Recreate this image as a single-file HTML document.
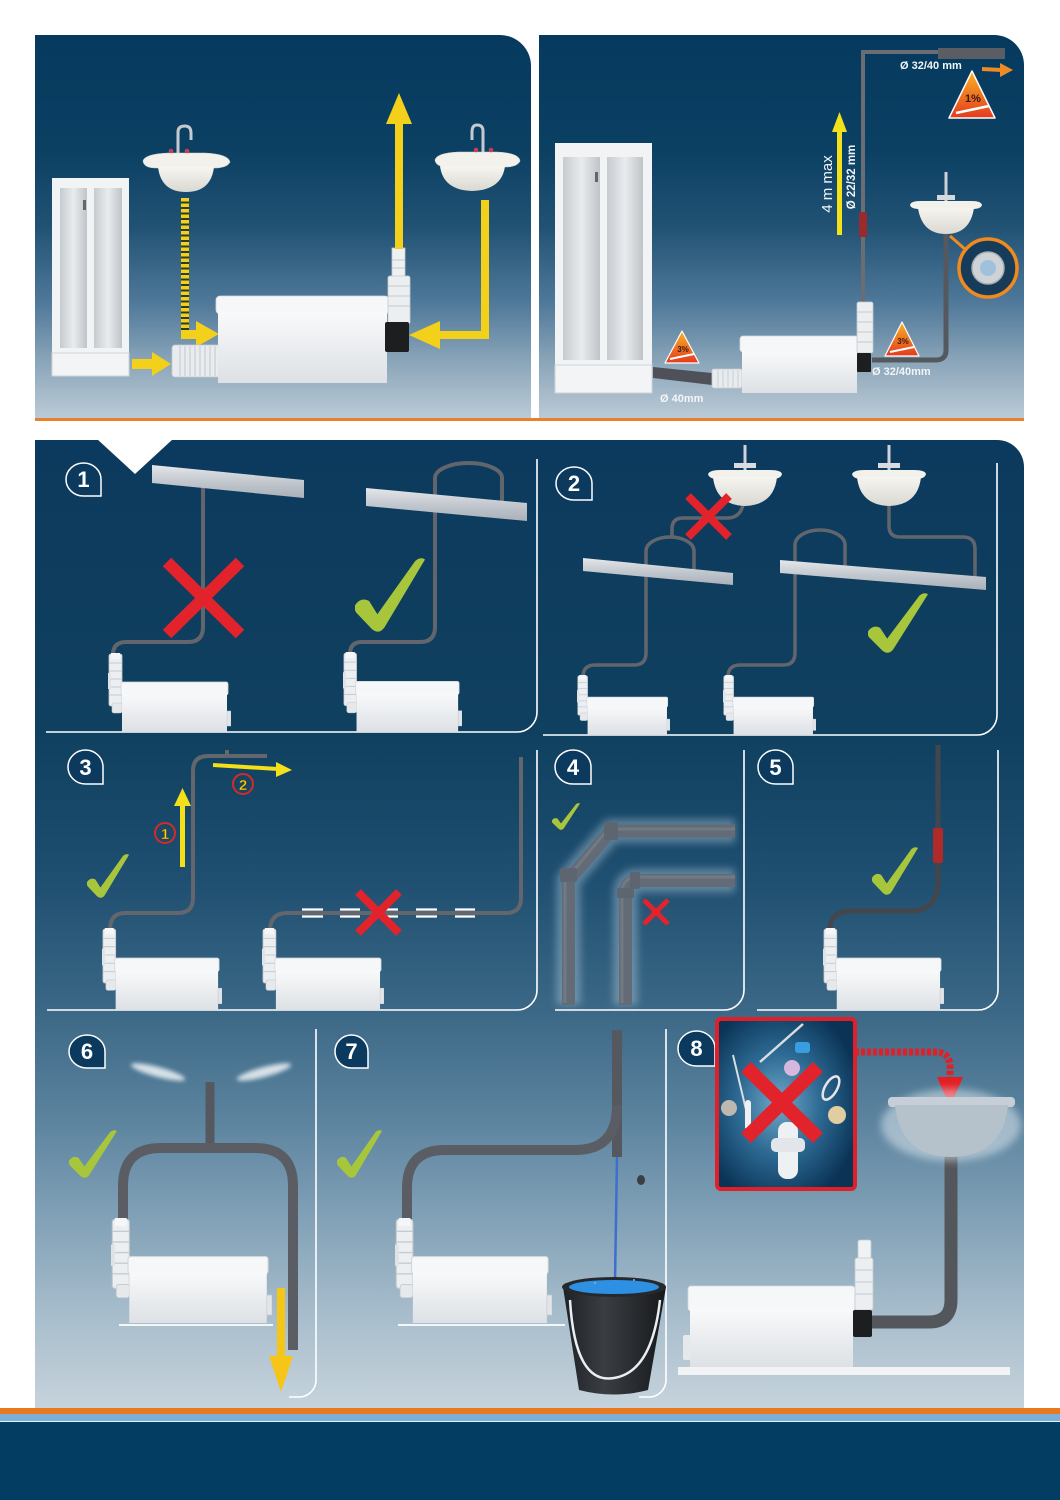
<!DOCTYPE html>
<html><head><meta charset="utf-8">
<style>
html,body{margin:0;padding:0;background:#fff;}
body{width:1060px;height:1500px;overflow:hidden;}
svg{display:block;font-family:"Liberation Sans",Arial,sans-serif;}
</style></head>
<body>
<svg width="1060" height="1500" viewBox="0 0 1060 1500" xmlns="http://www.w3.org/2000/svg">
<defs>
  <linearGradient id="gTop" gradientUnits="userSpaceOnUse" x1="0" y1="35" x2="0" y2="419">
    <stop offset="0" stop-color="#053a5e"/>
    <stop offset="0.3" stop-color="#0b4063"/>
    <stop offset="0.5" stop-color="#215274"/>
    <stop offset="0.7" stop-color="#50799a"/>
    <stop offset="0.85" stop-color="#8aa5b9"/>
    <stop offset="1" stop-color="#bccbd7"/>
  </linearGradient>
  <linearGradient id="gBot" gradientUnits="userSpaceOnUse" x1="0" y1="440" x2="0" y2="1408">
    <stop offset="0" stop-color="#0c3a5e"/>
    <stop offset="0.3" stop-color="#10405f"/>
    <stop offset="0.45" stop-color="#1e4e70"/>
    <stop offset="0.59" stop-color="#3b6886"/>
    <stop offset="0.7" stop-color="#5b839e"/>
    <stop offset="0.8" stop-color="#80a0b6"/>
    <stop offset="0.9" stop-color="#a6bccb"/>
    <stop offset="1" stop-color="#c6d3dc"/>
  </linearGradient>
  <linearGradient id="pb" x1="0" y1="0" x2="0" y2="1">
    <stop offset="0" stop-color="#f8f9fa"/>
    <stop offset="1" stop-color="#dde1e5"/>
  </linearGradient>
  <linearGradient id="beam" x1="0" y1="0" x2="0" y2="1">
    <stop offset="0" stop-color="#e4e7eb"/>
    <stop offset="0.5" stop-color="#c3c8cf"/>
    <stop offset="1" stop-color="#a9b0b9"/>
  </linearGradient>
  <linearGradient id="sinkG" x1="0" y1="0" x2="0" y2="1">
    <stop offset="0" stop-color="#f6f5f0"/>
    <stop offset="1" stop-color="#d9d8d1"/>
  </linearGradient>
  <linearGradient id="door" x1="0" y1="0" x2="1" y2="0">
    <stop offset="0" stop-color="#c6cbd0"/>
    <stop offset="0.5" stop-color="#e9ecee"/>
    <stop offset="1" stop-color="#bfc4c9"/>
  </linearGradient>
  <linearGradient id="warn" x1="0" y1="0" x2="0" y2="1">
    <stop offset="0" stop-color="#f8b323"/>
    <stop offset="1" stop-color="#e43a1f"/>
  </linearGradient>
  <linearGradient id="bucket" x1="0" y1="0" x2="1" y2="0">
    <stop offset="0" stop-color="#1e2124"/>
    <stop offset="0.4" stop-color="#3a3e43"/>
    <stop offset="1" stop-color="#17191b"/>
  </linearGradient>
  <radialGradient id="box8" cx="0.45" cy="0.5" r="0.6">
    <stop offset="0" stop-color="#6fa7c9"/>
    <stop offset="0.5" stop-color="#2d6a93"/>
    <stop offset="1" stop-color="#0a3356"/>
  </radialGradient>
  <filter id="blur2" x="-50%" y="-50%" width="200%" height="200%"><feGaussianBlur stdDeviation="2"/></filter>
  <filter id="blur4" x="-50%" y="-50%" width="200%" height="200%"><feGaussianBlur stdDeviation="4"/></filter>
  <symbol id="pump" viewBox="0 0 123 79" preserveAspectRatio="none">
    <rect x="1" y="1" width="13" height="52" rx="2" fill="#eceff1" stroke="#c3c8cd" stroke-width=".8"/>
    <rect x="3" y="0" width="9" height="6" fill="#f5f6f7"/>
    <path d="M1,10H14M1,18H14M1,26H14M1,34H14M1,42H14" stroke="#c6cbd0" stroke-width="1"/>
    <rect x="0" y="20" width="3" height="16" fill="#dfe3e6"/>
    <rect x="4" y="50" width="10" height="10" rx="2" fill="#e6e9ec" stroke="#c3c8cd" stroke-width=".6"/>
    <rect x="13" y="29" width="107" height="13" rx="2" fill="#f6f7f8" stroke="#d2d6da" stroke-width=".8"/>
    <rect x="14" y="41" width="105" height="38" fill="url(#pb)"/>
    <rect x="119" y="58" width="4" height="15" fill="#e2e5e8" stroke="#c5cacf" stroke-width=".5"/>
  </symbol>
  <symbol id="chk" viewBox="0 0 100 100" preserveAspectRatio="none">
    <path d="M0,64 Q8,52 20,58 L32,76 L86,4 Q94,-2 100,2 L42,94 Q34,104 24,96 L2,74 Q-2,69 0,64 Z" fill="#a8c63c"/>
  </symbol>
</defs>

<!-- ================= TOP PANELS ================= -->
<path d="M35,35H500A31,31 0 0 1 531,66V419H35Z" fill="url(#gTop)"/>
<path d="M539,35H994A30,30 0 0 1 1024,65V419H539Z" fill="url(#gTop)"/>
<rect x="35" y="418" width="989" height="3" fill="#e8822a"/>

<!-- shower 1 -->
<rect x="52" y="178" width="77" height="177" fill="#f1f3f5"/>
<rect x="60" y="188" width="27" height="160" fill="url(#door)"/>
<rect x="94" y="188" width="28" height="160" fill="url(#door)"/>
<rect x="52" y="353" width="77" height="23" fill="#f3f4f5" stroke="#cfd4d8" stroke-width="1"/>
<rect x="83" y="200" width="3" height="10" fill="#666"/>

<!-- sink 1 -->
<path d="M178,154V132Q178,126 185,126Q191,126 191,133V140" fill="none" stroke="#c5cad0" stroke-width="3"/>
<path d="M143,161 Q145,154 168,153 H205 Q228,154 230,162 Q227,168 214,168 H156 Q144,168 143,161Z" fill="#f3f1ec" stroke="#d6d4cd" stroke-width=".6"/>
<path d="M158,167 Q161,192 186,192 Q211,192 214,167Z" fill="url(#sinkG)"/>
<circle cx="171" cy="151" r="2.3" fill="#c84050"/><circle cx="187" cy="151" r="2.3" fill="#c84050"/>

<!-- sink 2 -->
<path d="M483,153V131Q483,125 477,125Q472,125 472,132V140" fill="none" stroke="#c5cad0" stroke-width="3"/>
<path d="M435,160 Q437,153 458,152 H497 Q519,153 520,161 Q517,167 505,167 H448 Q436,167 435,160Z" fill="#f3f1ec" stroke="#d6d4cd" stroke-width=".6"/>
<path d="M440,166 Q443,190 472,191 Q502,190 505,166Z" fill="url(#sinkG)"/>
<circle cx="476" cy="150" r="2.3" fill="#c84050"/><circle cx="491" cy="150" r="2.3" fill="#c84050"/>

<!-- yellow arrows top-left -->
<line x1="185" y1="198" x2="185" y2="334" stroke="#2c3a26" stroke-width="8"/>
<line x1="185" y1="198" x2="185" y2="334" stroke="#f3d01a" stroke-width="8" stroke-dasharray="3.5 2"/>
<rect x="181" y="330" width="17" height="9" fill="#f3d01a"/>
<polygon points="196,321 219,334 196,347" fill="#f3d01a"/>
<rect x="132" y="359" width="21" height="10" fill="#f3d01a"/>
<polygon points="152,352 171,364 152,376" fill="#f3d01a"/>

<!-- inlet fitting -->
<rect x="172" y="345" width="48" height="32" rx="3" fill="#e9ecef" stroke="#c4c9ce" stroke-width=".8"/>
<path d="M180,346V376M185,346V376M190,346V376M195,346V376M200,346V376M205,346V376M210,346V376M215,346V376" stroke="#c9ced3" stroke-width="1.2"/>

<!-- pump top-left -->
<rect x="216" y="296" width="173" height="18" rx="4" fill="#f6f7f8" stroke="#d4d8dc" stroke-width=".8"/>
<rect x="218" y="313" width="169" height="70" fill="url(#pb)"/>
<rect x="392" y="248" width="13" height="30" fill="#eef0f2" stroke="#c5cace" stroke-width=".8"/>
<rect x="388" y="276" width="22" height="48" rx="2" fill="#eceff1" stroke="#c5cace" stroke-width=".8"/>
<path d="M388,286H410M388,296H410M388,306H410M392,260H405M392,268H405" stroke="#c5cace" stroke-width="1"/>
<rect x="385" y="322" width="24" height="30" rx="2" fill="#1d1e20"/>
<rect x="395" y="121" width="8" height="128" fill="#f3d01a"/>
<polygon points="386,124 399,93 412,124" fill="#f3d01a"/>
<rect x="481" y="200" width="8" height="139" fill="#f3d01a"/>
<rect x="438" y="331" width="51" height="8" fill="#f3d01a"/>
<polygon points="440,321 409,335 440,349" fill="#f3d01a"/>

<!-- top right panel -->
<rect x="555" y="143" width="97" height="224" fill="#f1f3f5"/>
<rect x="563" y="157" width="37" height="203" fill="url(#door)"/>
<rect x="607" y="157" width="36" height="203" fill="url(#door)"/>
<rect x="555" y="365" width="97" height="28" fill="#f3f4f5" stroke="#cfd4d8" stroke-width="1"/>
<rect x="595" y="172" width="3" height="10" fill="#666"/>

<polygon points="653,367 712,373 712,385 653,378" fill="#4e5258"/>
<rect x="712" y="369" width="30" height="19" rx="2" fill="#e9ecef" stroke="#c4c9ce" stroke-width=".8"/>
<path d="M718,370V387M723,370V387M728,370V387M733,370V387M738,370V387" stroke="#c9ced3" stroke-width="1"/>
<rect x="740" y="336" width="119" height="16" rx="3" fill="#f6f7f8" stroke="#d4d8dc" stroke-width=".8"/>
<rect x="742" y="351" width="115" height="42" fill="url(#pb)"/>

<path d="M863,303V52H940" fill="none" stroke="#6a6e74" stroke-width="4"/>
<rect x="938" y="48" width="67" height="11" fill="#5a5e64"/>
<rect x="859" y="212" width="8" height="25" rx="2" fill="#9b2a2a"/>
<rect x="857" y="302" width="16" height="51" rx="2" fill="#eceff1" stroke="#c5cace" stroke-width=".8"/>
<path d="M857,312H873M857,322H873M857,332H873M857,342H873" stroke="#c5cace" stroke-width="1"/>
<rect x="857" y="353" width="14" height="19" rx="1" fill="#1d1e20"/>

<path d="M946,234V350Q946,360 936,360H872" fill="none" stroke="#55595f" stroke-width="5"/>
<line x1="946" y1="172" x2="946" y2="202" stroke="#cdd2d7" stroke-width="3"/>
<rect x="937" y="195" width="18" height="5" fill="#d6dade"/>
<path d="M910,205 Q911,201 920,201 H972 Q981,201 982,205 Q981,209 972,209 H920 Q911,209 910,205Z" fill="#f3f1ec"/>
<path d="M918,208 Q922,234 946,234 Q970,234 974,208Z" fill="url(#sinkG)"/>
<line x1="950" y1="236" x2="966" y2="250" stroke="#f08a1e" stroke-width="3"/>
<circle cx="988" cy="268" r="29" fill="#173c5a" stroke="#f08a1e" stroke-width="3.5"/>
<circle cx="988" cy="268" r="16" fill="#cfd3d6" stroke="#a8afb5" stroke-width="1.5"/>
<circle cx="988" cy="268" r="8" fill="#9fc1dc"/>

<rect x="837" y="130" width="5" height="105" fill="#f3e21a"/>
<polygon points="832,132 839.5,112 847,132" fill="#f3e21a"/>
<text transform="translate(832,184) rotate(-90)" text-anchor="middle" font-size="15" fill="#f2f5f8">4 m max</text>
<text transform="translate(855,177) rotate(-90)" text-anchor="middle" font-size="11.5" font-weight="bold" fill="#f2f5f8">Ø 22/32 mm</text>

<text x="900" y="69" font-size="11" font-weight="bold" fill="#f2f5f8">Ø 32/40 mm</text>
<line x1="982" y1="69" x2="1002" y2="70" stroke="#f08a24" stroke-width="4"/>
<polygon points="1000,63 1013,70 1000,77" fill="#f08a24"/>
<text x="872" y="375" font-size="11" font-weight="bold" fill="#f2f5f8">Ø 32/40mm</text>
<text x="660" y="402" font-size="11" font-weight="bold" fill="#f2f5f8">Ø 40mm</text>

<!-- warning triangles -->
<polygon points="972,71 995,118 949,118" fill="url(#warn)" stroke="#fff" stroke-width="1.5" stroke-linejoin="round"/>
<line x1="956" y1="113" x2="989" y2="106" stroke="#fff" stroke-width="2.5"/>
<text x="973" y="102" text-anchor="middle" font-size="11" font-weight="bold" fill="#3a1a10">1%</text>
<polygon points="902,322 919,356 885,356" fill="url(#warn)" stroke="#fff" stroke-width="1.2" stroke-linejoin="round"/>
<line x1="890" y1="352" x2="914" y2="347" stroke="#fff" stroke-width="2"/>
<text x="903" y="344" text-anchor="middle" font-size="8" font-weight="bold" fill="#3a1a10">3%</text>
<polygon points="682,331 699,363 665,363" fill="url(#warn)" stroke="#fff" stroke-width="1.2" stroke-linejoin="round"/>
<line x1="670" y1="359" x2="694" y2="354" stroke="#fff" stroke-width="2"/>
<text x="683" y="352" text-anchor="middle" font-size="8" font-weight="bold" fill="#3a1a10">3%</text>

<!-- ================= LOWER PANEL ================= -->
<path d="M35,440H997A27,27 0 0 1 1024,467V1408H35Z" fill="url(#gBot)"/>
<polygon points="97,439 173,439 135,474" fill="#fff"/>

<g fill="none" stroke="#fff" stroke-width="1.6">
  <path d="M537,459V712A20,20 0 0 1 517,732H46"/>
  <path d="M997,463V715A20,20 0 0 1 977,735H543"/>
  <path d="M537,750V990A20,20 0 0 1 517,1010H47"/>
  <path d="M744,750V990A20,20 0 0 1 724,1010H555"/>
  <path d="M998,750V990A20,20 0 0 1 978,1010H757"/>
  <path d="M316,1029V1380A17,17 0 0 1 299,1397H289"/>
  <path d="M666,1029V1380A17,17 0 0 1 649,1397H639"/>
</g>

<!-- badges -->
<g fill="#0c3a5e" stroke="#fff" stroke-width="1.5">
  <path d="M101,496H83.5A17.5,16.5 0 0 1 66,479.5A17.5,16.5 0 0 1 83.5,463A17.5,16.5 0 0 1 101,479.5Z"/>
  <path d="M592,500H574A18,16.5 0 0 1 556,483.5A18,16.5 0 0 1 574,467A18,16.5 0 0 1 592,483.5Z"/>
  <path d="M103,784H85.5A17.5,17 0 0 1 68,767A17.5,17 0 0 1 85.5,750A17.5,17 0 0 1 103,767Z"/>
  <path d="M591,784H573A18,17 0 0 1 555,767A18,17 0 0 1 573,750A18,17 0 0 1 591,767Z"/>
  <path d="M793,784H775.5A17.5,17 0 0 1 758,767A17.5,17 0 0 1 775.5,750A17.5,17 0 0 1 793,767Z"/>
  <path d="M105,1068H87A18,16.5 0 0 1 69,1051.5A18,16.5 0 0 1 87,1035A18,16.5 0 0 1 105,1051.5Z"/>
  <path d="M368,1068H351.5A16.5,16.5 0 0 1 335,1051.5A16.5,16.5 0 0 1 351.5,1035A16.5,16.5 0 0 1 368,1051.5Z"/>
  <path d="M715,1066H696.5A18.5,17.5 0 0 1 678,1048.5A18.5,17.5 0 0 1 696.5,1031A18.5,17.5 0 0 1 715,1048.5Z"/>
</g>
<g fill="#fff" font-size="22" font-weight="bold" text-anchor="middle">
  <text x="83.5" y="487">1</text>
  <text x="574" y="491">2</text>
  <text x="85.5" y="775">3</text>
  <text x="573" y="775">4</text>
  <text x="775.5" y="775">5</text>
  <text x="87" y="1059">6</text>
  <text x="351.5" y="1059">7</text>
  <text x="696.5" y="1056">8</text>
</g>

<!-- PANEL 1 -->
<g fill="none" stroke="#62666c" stroke-width="4">
  <path d="M113,655Q113,642 126,642H188Q203,642 203,627V483"/>
  <path d="M350,654Q350,642 362,642H420Q435,642 435,627V478A33.5,15 0 0 1 502,478V501"/>
</g>
<polygon points="152,465 304,480 304,498 152,483" fill="url(#beam)"/>
<polygon points="366,488 527,503 527,521 366,506" fill="url(#beam)"/>
<use href="#pump" x="108" y="653" width="123" height="79"/>
<use href="#pump" x="343" y="652" width="119" height="80"/>
<path d="M167,562L240,634M240,562L167,634" stroke="#e3232b" stroke-width="12"/>
<use href="#chk" x="355" y="558" width="70" height="74"/>

<!-- PANEL 2 -->
<g fill="none" stroke="#62666c" stroke-width="3.5">
  <path d="M583,677Q583,665 595,665H634Q646,665 646,653V551A24,14 0 0 1 694,551V571"/>
  <path d="M672,537V529Q672,518 683,518H727Q740,518 743,505"/>
  <path d="M728,677Q728,665 740,665H783Q795,665 795,653V545A25,15 0 0 1 845,545V566"/>
  <path d="M889,505V526Q889,537 900,537H963Q975,537 975,549V578"/>
</g>
<polygon points="583,558 733,573 733,585 583,571" fill="url(#beam)"/>
<polygon points="780,560 986,577 986,590 780,573" fill="url(#beam)"/>
<line x1="745" y1="445" x2="745" y2="471" stroke="#cfd3d8" stroke-width="3"/>
<rect x="734" y="463" width="22" height="5" fill="#d8dce0"/>
<path d="M708,474 Q710,470 720,470 H770 Q781,470 782,474 Q781,479 772,479 H718 Q709,479 708,474Z" fill="#f2f1ec"/>
<path d="M713,477 Q716,505 745,506 Q774,505 777,477Z" fill="url(#sinkG)"/>
<line x1="889" y1="445" x2="889" y2="471" stroke="#cfd3d8" stroke-width="3"/>
<rect x="878" y="463" width="22" height="5" fill="#d8dce0"/>
<path d="M852,474 Q854,470 864,470 H914 Q925,470 926,474 Q925,479 916,479 H862 Q853,479 852,474Z" fill="#f2f1ec"/>
<path d="M857,477 Q860,505 889,506 Q918,505 921,477Z" fill="url(#sinkG)"/>
<use href="#pump" x="577" y="675" width="93" height="60"/>
<use href="#pump" x="723" y="675" width="93" height="60"/>
<path d="M688,496L729,537M729,496L688,537" stroke="#e3232b" stroke-width="8"/>
<use href="#chk" x="868" y="593" width="60" height="60"/>

<!-- PANEL 3 -->
<g fill="none" stroke="#63676d" stroke-width="4">
  <path d="M110,930Q110,913 125,913H178Q193,913 193,898V771Q193,756 208,756H267"/>
  <path d="M227,750V756"/>
  <path d="M270,931Q270,913 287,913H506Q521,913 521,898V757"/>
</g>
<g stroke="#fff" stroke-width="2.2">
  <path d="M302,909.5H323M302,916.5H323"/>
  <path d="M340,909.5H360M340,916.5H360"/>
  <path d="M383,909.5H398M383,916.5H398"/>
  <path d="M416,909.5H437M416,916.5H437"/>
  <path d="M455,909.5H475M455,916.5H475"/>
</g>
<use href="#pump" x="102" y="928" width="120" height="82"/>
<use href="#pump" x="262" y="928" width="122" height="82"/>
<path d="M358,892L399,933M399,892L358,933" stroke="#e3232b" stroke-width="8"/>
<use href="#chk" x="87" y="854" width="42" height="44"/>
<rect x="180" y="802" width="5" height="65" fill="#f3e01a"/>
<polygon points="174,806 182.5,788 191,806" fill="#f3e01a"/>
<line x1="213" y1="765" x2="278" y2="769" stroke="#f3e01a" stroke-width="4"/>
<polygon points="276,762 292,770 276,777" fill="#f3e01a"/>
<circle cx="165" cy="833" r="10" fill="none" stroke="#d42a2a" stroke-width="2"/>
<text x="165" y="839" text-anchor="middle" font-size="15" font-weight="bold" fill="#f3d41a" stroke="#5a3a10" stroke-width=".5">1</text>
<circle cx="243" cy="784" r="10" fill="none" stroke="#d42a2a" stroke-width="2"/>
<text x="243" y="790" text-anchor="middle" font-size="15" font-weight="bold" fill="#f3d41a" stroke="#5a3a10" stroke-width=".5">2</text>

<!-- PANEL 4 -->
<g fill="none" stroke="#d4e6f3" stroke-width="24" opacity=".35" filter="url(#blur4)" stroke-linejoin="round">
  <path d="M568.5,1005V880L611,831H735"/>
  <path d="M625.5,1005V893Q625.5,880.5 638,880.5H735"/>
</g>
<g fill="none" stroke="#636b76" stroke-width="13" stroke-linejoin="round">
  <path d="M568.5,1005V880L611,831H735"/>
  <path d="M625.5,1005V893Q625.5,880.5 638,880.5H735"/>
</g>
<g fill="none" stroke="#8189937a" stroke-width="3">
  <path d="M565,1003V881L608,829H735"/>
  <path d="M622,1003V893Q622,877 638,877H735"/>
</g>
<rect x="560" y="868" width="17" height="14" rx="2" fill="#5d6570"/>
<rect x="604" y="822" width="14" height="18" rx="2" fill="#5d6570"/>
<rect x="617" y="888" width="17" height="10" rx="2" fill="#5d6570"/>
<rect x="630" y="872" width="10" height="17" rx="2" fill="#5d6570"/>
<path d="M644,900L668,924M668,900L644,924" stroke="#e3232b" stroke-width="5"/>
<use href="#chk" x="552" y="803" width="28" height="27"/>

<!-- PANEL 5 -->
<path d="M938,745V882Q938,911 909,911H852Q830,911 830,929" fill="none" stroke="#43474d" stroke-width="5"/>
<rect x="933" y="828" width="10" height="35" rx="2" fill="#b02a2a"/>
<use href="#pump" x="823" y="928" width="121" height="82"/>
<use href="#chk" x="872" y="847" width="46" height="48"/>

<!-- PANEL 6 -->
<ellipse cx="158" cy="1072" rx="28" ry="5" transform="rotate(15 158 1072)" fill="#eef3f6" opacity=".85" filter="url(#blur2)"/>
<ellipse cx="264" cy="1072" rx="28" ry="5" transform="rotate(-15 264 1072)" fill="#eef3f6" opacity=".85" filter="url(#blur2)"/>
<path d="M210,1148V1082" stroke="#55595f" stroke-width="9"/>
<path d="M123,1220V1186Q123,1148 161,1148H255Q293,1148 293,1186V1350" fill="none" stroke="#5a5e64" stroke-width="10"/>
<use href="#pump" x="111" y="1218" width="161" height="105"/>
<line x1="119" y1="1325" x2="273" y2="1325" stroke="#f4f6f8" stroke-width="2"/>
<rect x="277" y="1288" width="8" height="70" fill="#f5c518"/>
<polygon points="269,1356 293,1356 281,1392" fill="#f5c518"/>
<use href="#chk" x="69" y="1130" width="48" height="48"/>

<!-- PANEL 7 -->
<path d="M617,1030V1157" stroke="#55595f" stroke-width="10"/>
<path d="M617,1105Q617,1150 575,1150H445Q407,1150 407,1188V1220" fill="none" stroke="#5a5e64" stroke-width="10"/>
<use href="#pump" x="395" y="1218" width="157" height="105"/>
<line x1="398" y1="1325" x2="565" y2="1325" stroke="#f4f6f8" stroke-width="2"/>
<line x1="617" y1="1157" x2="615" y2="1282" stroke="#3c6fd0" stroke-width="2.5"/>
<ellipse cx="641" cy="1180" rx="4" ry="5" fill="#3b3e42"/>
<path d="M563,1287L579,1390Q614,1399 648,1390L666,1287Z" fill="url(#bucket)"/>
<ellipse cx="614" cy="1287" rx="52" ry="10" fill="#26292c"/>
<ellipse cx="614" cy="1287" rx="45" ry="7" fill="#2e90e2"/>
<g fill="#7fb3e8"><circle cx="600" cy="1275" r="1.2"/><circle cx="627" cy="1270" r="1.2"/><circle cx="608" cy="1262" r="1"/><circle cx="634" cy="1280" r="1"/><circle cx="595" cy="1283" r="1"/></g>
<path d="M570,1300Q575,1385 614,1378Q652,1372 660,1300" fill="none" stroke="#e8eef2" stroke-width="2.5"/>
<use href="#chk" x="337" y="1130" width="45" height="48"/>

<!-- PANEL 8 -->
<rect x="717" y="1019" width="138" height="170" rx="4" fill="url(#box8)" stroke="#e02028" stroke-width="4"/>
<line x1="760" y1="1062" x2="803" y2="1024" stroke="#d8dde2" stroke-width="2.5"/>
<rect x="795" y="1042" width="15" height="11" rx="3" fill="#3a9de0"/>
<circle cx="792" cy="1068" r="8" fill="#d6b8df"/>
<line x1="733" y1="1055" x2="748" y2="1118" stroke="#d8dde2" stroke-width="2"/>
<circle cx="729" cy="1108" r="8" fill="#bdb8b0"/>
<rect x="745" y="1100" width="6" height="30" rx="3" fill="#eef0f2"/>
<ellipse cx="831" cy="1088" rx="6" ry="13" transform="rotate(30 831 1088)" fill="none" stroke="#e4e6ea" stroke-width="2.5"/>
<circle cx="837" cy="1115" r="9" fill="#e2cda0"/>
<rect x="778" y="1122" width="20" height="57" rx="9" fill="#eef1f4"/>
<rect x="771" y="1138" width="34" height="14" rx="5" fill="#e2e6ea"/>
<path d="M746,1067L818,1138M818,1067L746,1138" stroke="#e3232b" stroke-width="14"/>
<path d="M855,1052H935Q950,1052 950,1067V1078" fill="none" stroke="#e31e24" stroke-width="7" stroke-dasharray="4 2"/>
<polygon points="937,1077 963,1077 950,1107" fill="#e31e24"/>

<path d="M951,1155V1300Q951,1322 929,1322H872" fill="none" stroke="#53575c" stroke-width="13"/>
<ellipse cx="951" cy="1125" rx="70" ry="36" fill="#e6eef4" opacity=".5" filter="url(#blur4)"/>
<rect x="888" y="1097" width="127" height="10" rx="4" fill="#c6cfd7"/>
<path d="M895,1105 Q900,1156 951,1157 Q1003,1156 1008,1105Z" fill="#b6c2cb"/>
<rect x="683" y="1335" width="8" height="25" rx="2" fill="#e6e9ec"/>
<rect x="688" y="1286" width="167" height="25" rx="3" fill="#f6f7f8" stroke="#d3d7db" stroke-width=".8"/>
<rect x="690" y="1309" width="163" height="58" fill="url(#pb)"/>
<rect x="858" y="1240" width="13" height="20" rx="2" fill="#f0f2f4" stroke="#c5cace" stroke-width=".8"/>
<rect x="855" y="1258" width="18" height="52" rx="2" fill="#eceff1" stroke="#c5cace" stroke-width=".8"/>
<path d="M855,1270H873M855,1282H873M855,1294H873" stroke="#c5cace" stroke-width="1"/>
<rect x="853" y="1310" width="19" height="27" rx="2" fill="#1d1e20"/>
<rect x="678" y="1367" width="332" height="8" fill="#f1f3f5"/>

<!-- FOOTER -->
<rect x="0" y="1408" width="1060" height="6" fill="#e8791f"/>
<rect x="0" y="1414" width="1060" height="7" fill="#7aaedb"/>
<rect x="0" y="1421" width="1060" height="1" fill="#e6f0f8"/>
<rect x="0" y="1422" width="1060" height="78" fill="#033e62"/>
</svg>
</body></html>
